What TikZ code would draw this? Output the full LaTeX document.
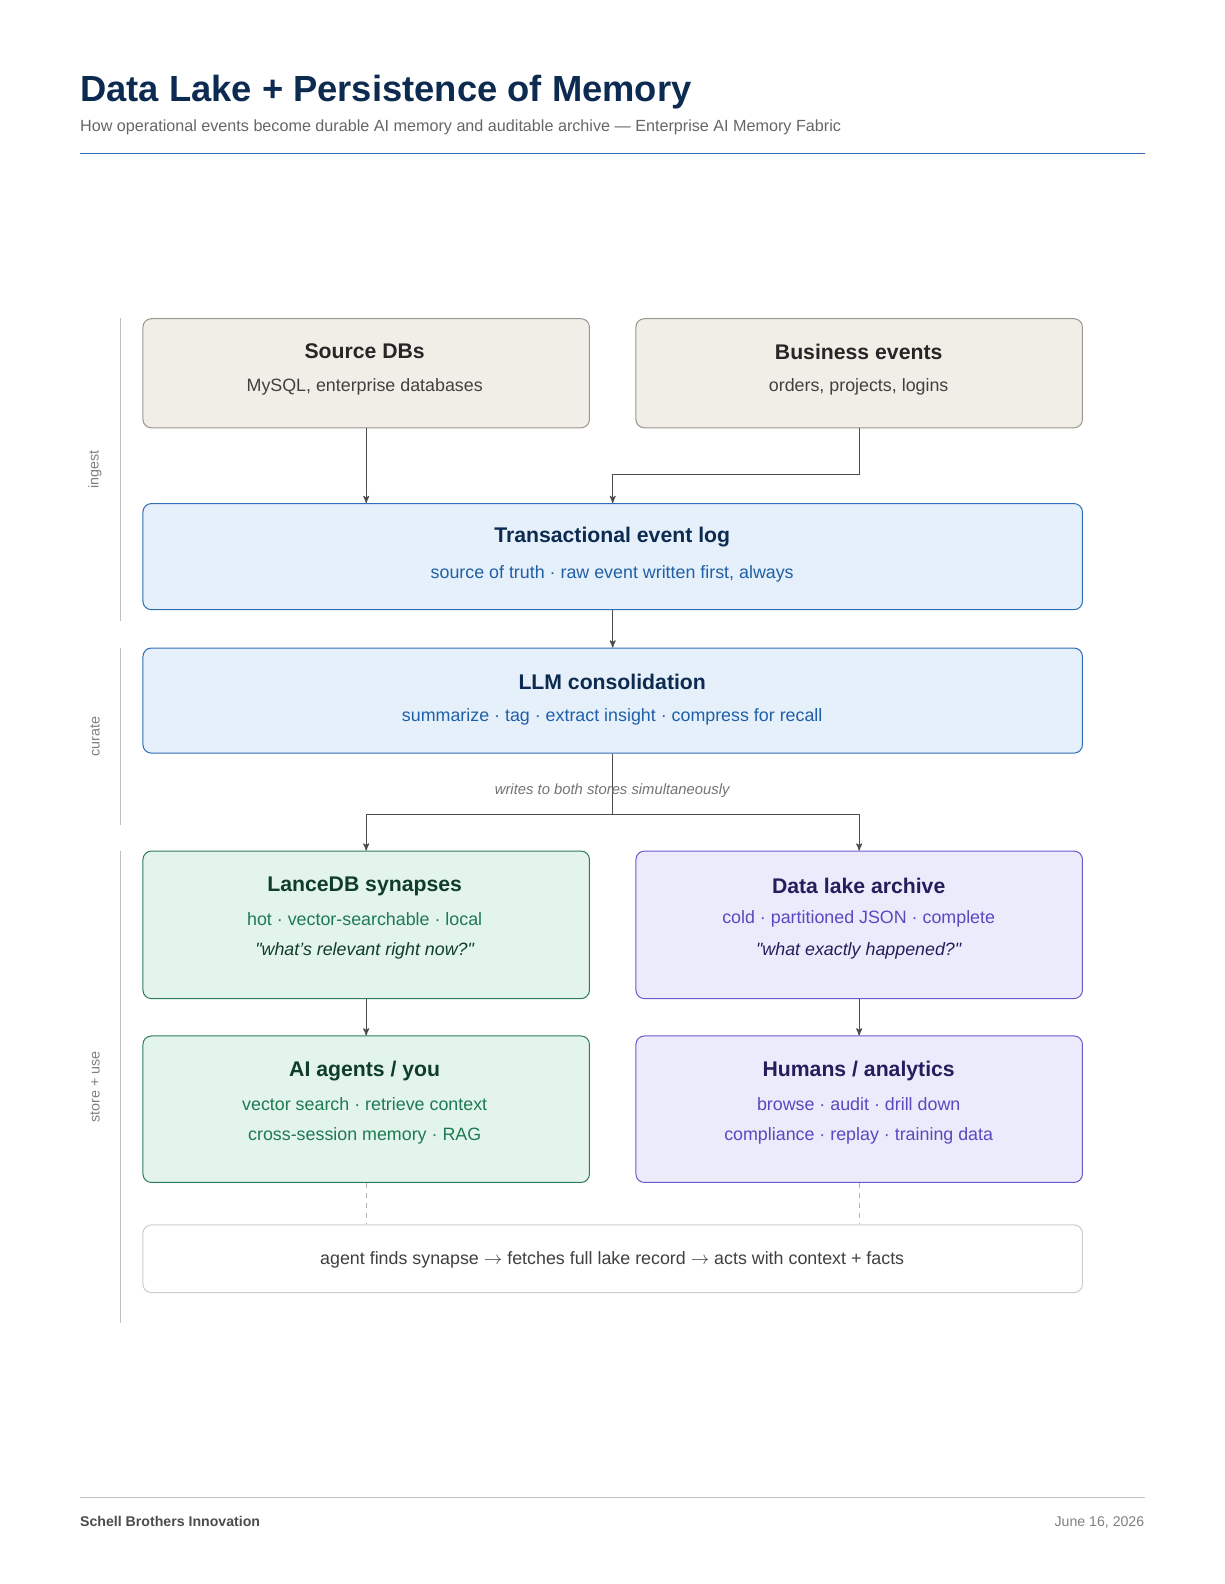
\documentclass[tikz,border=0pt]{standalone}
\usepackage{fontspec}
\setmainfont{Liberation Sans}
\usepackage{tikz}
\usetikzlibrary{arrows,positioning}

\definecolor{navy}{HTML}{0D2B50}
\definecolor{rule}{HTML}{2F6DB5}
\definecolor{beigeF}{HTML}{F1EEE8}
\definecolor{beigeD}{HTML}{9A968E}
\definecolor{blueF}{HTML}{E6F0FA}
\definecolor{blueD}{HTML}{2F6DB5}
\definecolor{blueT}{HTML}{1F5FA8}
\definecolor{greenF}{HTML}{E2F4EC}
\definecolor{greenD}{HTML}{2E7D5A}
\definecolor{greenH}{HTML}{0F3D2A}
\definecolor{greenT}{HTML}{1E7A50}
\definecolor{purpF}{HTML}{ECEBFC}
\definecolor{purpD}{HTML}{6A5ACD}
\definecolor{purpH}{HTML}{241E5C}
\definecolor{purpT}{HTML}{5A48C0}

\tikzset{
  box/.style={draw, rounded corners=5pt, line width=0.6pt, anchor=north west, inner sep=0pt},
  wide/.style={box, minimum width=930*0.6pt},
  half/.style={box, minimum width=442*0.6pt},
  beige/.style={fill=beigeF, draw=beigeD},
  blue/.style={fill=blueF, draw=blueD},
  green/.style={fill=greenF, draw=greenD},
  purp/.style={fill=purpF, draw=purpD},
  head/.style={font=\bfseries\fontsize{12.6}{14}\selectfont},
  sub/.style={font=\fontsize{10.6}{13}\selectfont},
  side/.style={rotate=90, text=gray, font=\fontsize{8.5}{10}\selectfont},
  flow/.style={->, >=stealth', draw=black!70, line width=0.6pt},
}
\newcommand{\qt}[1]{\textquotedbl#1\textquotedbl}

\begin{document}
\begin{tikzpicture}[x=0.6pt, y=-0.6pt]

% header
\node[anchor=base west, inner sep=0pt, text=navy, font=\bfseries\fontsize{21.6}{24}\selectfont] (title) at (79,100) {Data Lake + Persistence of Memory};
\node[anchor=base west, inner sep=0pt, text=black!60, font=\fontsize{9.6}{11}\selectfont] (subtitle) at (79,130) {How operational events become durable AI memory and auditable archive — Enterprise AI Memory Fabric};
\draw[rule, line width=0.8pt] (79,152) -- (1133,152);

% lane markers
\draw[black!25, line width=0.6pt] (119,315) -- (119,615);
\draw[black!25, line width=0.6pt] (119,641) -- (119,817);
\draw[black!25, line width=0.6pt] (119,842) -- (119,1310);
\node[side] (ingest) at (94,465) {ingest};
\node[side] (curate) at (94,729) {curate};
\node[side] (store) at (94,1076) {store + use};

% ingest
\node[half, beige, minimum height=108*0.6pt] (src) at (141,315) {};
\node[head, text=black!85] (srcT) at (361,348) {Source DBs};
\node[sub, text=black!75] (srcS) at (361,383) {MySQL, enterprise databases};
\node[half, beige, minimum height=108*0.6pt] (biz) at (629,315) {};
\node[head, text=black!85] (bizT) at (850,348) {Business events};
\node[sub, text=black!75] (bizS) at (850,383) {orders, projects, logins};

\node[wide, blue, minimum height=105*0.6pt] (log) at (141,498) {};
\node[head, text=navy] (logT) at (606,532) {Transactional event log};
\node[sub, text=blueT] (logS) at (606,568) {source of truth · raw event written first, always};

% curate
\node[wide, blue, minimum height=104*0.6pt] (llm) at (141,641) {};
\node[head, text=navy] (llmT) at (606,675) {LLM consolidation};
\node[sub, text=blueT] (llmS) at (606,710) {summarize · tag · extract insight · compress for recall};

% store + use
\node[half, green, minimum height=146*0.6pt] (lance) at (141,842) {};
\node[head, text=greenH] (lanceT) at (361,877) {LanceDB synapses};
\node[sub, text=greenT] (lanceS) at (361,910) {hot · vector-searchable · local};
\node[sub, text=greenH, font=\itshape\fontsize{10.6}{13}\selectfont] (lanceQ) at (361,941) {\qt{what's relevant right now?}};

\node[half, purp, minimum height=146*0.6pt] (lake) at (629,842) {};
\node[head, text=purpH] (lakeT) at (850,877) {Data lake archive};
\node[sub, text=purpT] (lakeS) at (850,910) {cold · partitioned JSON · complete};
\node[sub, text=purpH, font=\itshape\fontsize{10.6}{13}\selectfont] (lakeQ) at (850,941) {\qt{what exactly happened?}};

\node[half, green, minimum height=145*0.6pt] (agents) at (141,1025) {};
\node[head, text=greenH] (agentsT) at (361,1060) {AI agents / you};
\node[sub, text=greenT] (agentsS) at (361,1093) {vector search · retrieve context};
\node[sub, text=greenT] (agentsR) at (361,1124) {cross-session memory · RAG};

\node[half, purp, minimum height=145*0.6pt] (humans) at (629,1025) {};
\node[head, text=purpH] (humansT) at (850,1060) {Humans / analytics};
\node[sub, text=purpT] (humansS) at (850,1093) {browse · audit · drill down};
\node[sub, text=purpT] (humansR) at (850,1124) {compliance · replay · training data};

\node[wide, box, fill=white, draw=black!20, minimum height=67*0.6pt] (loop) at (141,1212) {};
\node[sub, text=black!75] (loopT) at (606,1247) {agent finds synapse $\rightarrow$ fetches full lake record $\rightarrow$ acts with context + facts};

% connectors
\draw[flow] (src.south) -- (src.south |- log.north);
\draw[flow] (biz.south) -- ++(0,46) -| (log.north);
\draw[flow] (log.south) -- (llm.north);
\draw[draw=black!70, line width=0.6pt] (llm.south) -- ++(0,60) coordinate (split);
\draw[flow] (split) -| (lance.north);
\draw[flow] (split) -| (lake.north);
\node[text=black!55, font=\itshape\fontsize{8.8}{10}\selectfont] (writes) at (606,783) {writes to both stores simultaneously};
\draw[flow] (lance.south) -- (agents.north);
\draw[flow] (lake.south) -- (humans.north);
\draw[black!30, dashed, line width=0.6pt] (agents.south) -- (agents.south |- loop.north);
\draw[black!30, dashed, line width=0.6pt] (humans.south) -- (humans.south |- loop.north);

% footer
\draw[black!25, line width=0.6pt] (79,1482) -- (1133,1482);
\node[anchor=base west, inner sep=0pt, text=black!70, font=\bfseries\fontsize{8.4}{10}\selectfont] (org) at (79,1511) {Schell Brothers Innovation};
\node[anchor=base east, inner sep=0pt, text=black!50, font=\fontsize{8.4}{10}\selectfont] (date) at (1133,1511) {June 16, 2026};

\pgfresetboundingbox
\useasboundingbox (0,0) rectangle (1212,1568);
\end{tikzpicture}
\end{document}
